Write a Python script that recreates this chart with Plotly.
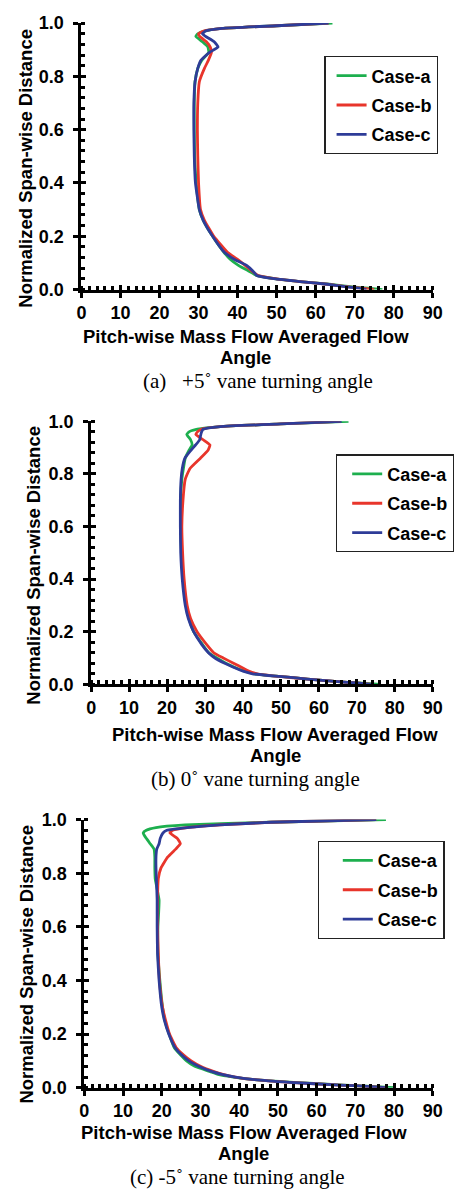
import plotly.graph_objects as go

# ---------------- data ----------------
CASES = ["Case-a", "Case-b", "Case-c"]
COLORS = ["#1DAF4E", "#E8352B", "#2E3C98"]

X_TICKS = [0, 10, 20, 30, 40, 50, 60, 70, 80, 90]
Y_TICKS = [0.0, 0.2, 0.4, 0.6, 0.8, 1.0]
Y_TICK_LABELS = ["0.0", "0.2", "0.4", "0.6", "0.8", "1.0"]

# panel (a) +5 deg
S_A = [0, 0.005, 0.01, 0.02, 0.03, 0.04, 0.053, 0.07, 0.09, 0.114, 0.14, 0.2, 0.26, 0.3, 0.4,
       0.5, 0.6, 0.7, 0.78, 0.83, 0.86, 0.89, 0.91, 0.93, 0.95, 0.96, 0.97, 0.98, 0.99, 1.0]
A_CASE_A = [77.1, 73.5, 69.5, 63.5, 56, 49.8, 44.9, 42.8, 40.3, 38.1, 36.5, 33.6, 31.2, 30.2, 29.4,
            29.0, 28.9, 28.9, 29.1, 29.8, 30.8, 32.6, 32.4, 31.0, 29.3, 29.8, 31.5, 36, 50, 64.3]
A_CASE_B = [75, 72, 68.5, 63, 56, 50, 45.3, 43.6, 42, 39.9, 37.4, 33.9, 31.5, 30.5, 30.0,
            29.8, 29.7, 29.8, 30.2, 31.5, 32.5, 33.3, 33.0, 32.0, 30.3, 30.0, 31.3, 36, 50, 63.3]
A_CASE_C = [73, 71, 68, 63, 56, 49.8, 44.9, 43.9, 42.4, 39.1, 36.6, 33.6, 31.2, 30.2, 29.2,
            28.9, 28.8, 28.8, 29.1, 29.8, 30.6, 32.8, 35.0, 34.0, 31.8, 31.0, 31.8, 36, 50, 63.3]

# panel (b) 0 deg
S_B = [0, 0.005, 0.01, 0.02, 0.03, 0.04, 0.05, 0.06, 0.08, 0.10, 0.12, 0.15, 0.2, 0.25, 0.3, 0.4,
       0.5, 0.6, 0.7, 0.78, 0.82, 0.86, 0.89, 0.91, 0.93, 0.95, 0.96, 0.97, 0.98, 0.99, 1.0]
B_CASE_A = [76.3, 70.5, 65, 57, 49.5, 43, 40.5, 38.5, 35.5, 33.1, 31.0, 29.4, 27.0, 25.8, 25.0, 24.3,
            23.8, 23.6, 23.6, 23.9, 24.3, 24.8, 25.8, 26.6, 26.2, 25.2, 25.8, 28, 34, 50, 67.8]
B_CASE_B = [74, 70, 65, 57, 49.5, 43.8, 41.5, 40.2, 37.5, 34.8, 32.3, 30.5, 27.9, 26.2, 25.3, 24.5,
            24.1, 23.9, 24.2, 24.8, 26.0, 28.8, 30.8, 31.3, 29.5, 27.6, 28.0, 29, 34, 50, 65.7]
B_CASE_C = [73.7, 70, 65, 57, 49.5, 42.5, 40, 38.3, 35.2, 32.6, 30.9, 29.2, 27.0, 25.6, 24.8, 24.0,
            23.6, 23.5, 23.5, 23.7, 24.0, 24.7, 26.3, 27.5, 28.6, 28.9, 29.1, 29.5, 34, 50, 66]

# panel (c) -5 deg
S_C = [0, 0.005, 0.01, 0.02, 0.03, 0.04, 0.05, 0.06, 0.08, 0.10, 0.12, 0.15, 0.2, 0.25, 0.3, 0.4,
       0.5, 0.6, 0.7, 0.78, 0.82, 0.86, 0.89, 0.91, 0.93, 0.95, 0.96, 0.97, 0.98, 0.99, 1.0]
C_CASE_A = [80, 74, 67, 54, 44, 38.5, 34.5, 32.5, 28.5, 26.4, 25.0, 23.2, 21.9, 20.8, 20.2, 19.5,
            19.0, 19.0, 19.3, 18.3, 18.2, 18.2, 18.0, 17.0, 16.0, 15.2, 16.0, 18.5, 26, 48, 77.9]
C_CASE_B = [78, 73, 66, 53, 44, 39.0, 35.8, 33.5, 30.0, 27.6, 25.8, 23.7, 22.0, 21.0, 20.2, 19.4,
            19.1, 18.9, 18.9, 19.1, 19.8, 21.5, 23.6, 24.8, 24.0, 22.1, 22.8, 26.5, 35, 48, 75.4]
C_CASE_C = [78, 73, 66, 53, 44, 39.0, 35.5, 33.0, 29.5, 27.0, 25.3, 23.4, 21.8, 20.7, 20.0, 19.3,
            18.9, 18.8, 18.8, 18.6, 18.5, 18.5, 18.7, 19.3, 19.6, 20.3, 21.3, 26.5, 35, 48, 75.4]

PANELS = [
    (S_A, [A_CASE_A, A_CASE_B, A_CASE_C]),
    (S_B, [B_CASE_A, B_CASE_B, B_CASE_C]),
    (S_C, [C_CASE_A, C_CASE_B, C_CASE_C]),
]
CAPTIONS = ["(a)\u00a0\u00a0\u00a0+5\u02da vane turning angle",
            "(b) 0\u02da vane turning angle",
            "(c) -5\u02da vane turning angle"]
X_TITLE_LINES = ["Pitch-wise Mass Flow Averaged Flow", "Angle"]
Y_TITLE = "Normalized Span-wise Distance"

# ---------------- layout geometry (page pixels) ----------------
W, H = 466, 1201

AX_LEFT = [79, 89, 82]
AX_RIGHT = [442, 442, 442]
AX_TOP = [13.3, 418.3, 823.3]
AX_BOTTOM = [284.3, 685.7, 1096]
LEG_POS = [(330, 47), (342, 452), (323, 845)]
LEG_INDENT = [6, 10, 19]
XT_X = [249, 279, 246.5]
XT_Y = [(332, 353), (737, 758), (1142, 1163)]
YT_POS = [(21, 161), (30, 565), (22.5, 970)]
CAP_POS = [(261.5, 377), (258.5, 782), (240, 1187)]

SANS = "Liberation Sans, Arial, sans-serif"
SERIF = "Liberation Serif, Times New Roman, serif"


def px(x):
    return x / W


def py(y):
    return 1 - y / H


fig = go.Figure()
layout = dict(
    width=W, height=H, margin=dict(l=0, r=0, t=0, b=0),
    paper_bgcolor="white", plot_bgcolor="white", showlegend=True,
    annotations=[],
)

for i, (s_vals, series) in enumerate(PANELS):
    n = i + 1
    xa = "x" if i == 0 else f"x{n}"
    ya = "y" if i == 0 else f"y{n}"
    ov = i + 4
    leg = "legend" if i == 0 else f"legend{n}"
    for name, color, vals in zip(CASES, COLORS, series):
        fig.add_trace(go.Scatter(
            x=vals, y=s_vals, mode="lines", name=name,
            line=dict(color=color, width=2.8, shape="spline", smoothing=0.4),
            xaxis=xa, yaxis=ya, legend=leg, legendgroup=f"{name}{n}",
            hoverinfo="skip",
        ))
    # invisible trace for overlay axes (crossing ticks)
    fig.add_trace(go.Scatter(x=[None], y=[None], xaxis=f"x{ov}", yaxis=f"y{ov}",
                             showlegend=False, hoverinfo="skip"))

    xdom = [px(AX_LEFT[i]), px(AX_RIGHT[i])]
    ydom = [py(AX_BOTTOM[i]), py(AX_TOP[i])]
    tick_font = dict(family=SANS, size=18, color="black", weight="bold")
    layout[f"xaxis{'' if i == 0 else n}"] = dict(
        domain=xdom, range=[0, 90], anchor=ya, tickvals=X_TICKS,
        ticktext=[str(v) for v in X_TICKS],
        ticks="outside", ticklen=5, tickwidth=3, tickcolor="black",
        showline=True, linewidth=3, linecolor="black", showgrid=False, zeroline=False,
        tickfont=tick_font, ticklabelstandoff=0,
        minor=dict(ticks="inside", tick0=0, dtick=2, ticklen=4, tickwidth=3,
                   tickcolor="black", showgrid=False),
        fixedrange=True,
    )
    layout[f"yaxis{'' if i == 0 else n}"] = dict(
        domain=ydom, range=[0, 1], anchor=xa, tickvals=Y_TICKS, ticktext=Y_TICK_LABELS,
        ticks="outside", ticklen=5, tickwidth=3, tickcolor="black",
        showline=True, linewidth=3, linecolor="black", showgrid=False, zeroline=False,
        tickfont=tick_font, ticklabelstandoff=6,
        minor=dict(ticks="inside", tick0=0, dtick=0.04, ticklen=4, tickwidth=3,
                   tickcolor="black", showgrid=False),
        fixedrange=True,
    )
    layout[f"xaxis{ov}"] = dict(
        overlaying=xa, anchor=f"y{ov}", range=[0, 90], tickvals=X_TICKS,
        ticks="inside", ticklen=5, tickwidth=3, tickcolor="black",
        showticklabels=False, showline=False, showgrid=False, zeroline=False, fixedrange=True,
    )
    layout[f"yaxis{ov}"] = dict(
        overlaying=ya, anchor=f"x{ov}", range=[0, 1], tickvals=Y_TICKS,
        ticks="inside", ticklen=5, tickwidth=3, tickcolor="black",
        showticklabels=False, showline=False, showgrid=False, zeroline=False, fixedrange=True,
    )
    lx, ly = LEG_POS[i]
    layout[leg] = dict(
        x=px(lx), y=py(ly), xanchor="left", yanchor="top",
        bgcolor="white", bordercolor="#222222", borderwidth=1.2,
        font=dict(family=SANS, size=18, color="black", weight="bold"),
        tracegroupgap=3, itemwidth=30, indentation=LEG_INDENT[i],
    )
    for line_text, ty in zip(X_TITLE_LINES, XT_Y[i]):
        layout["annotations"].append(dict(
            text=line_text, x=px(XT_X[i]), y=py(ty), xref="paper", yref="paper",
            xanchor="center", yanchor="middle", showarrow=False,
            font=dict(family=SANS, size=18.5, color="black", weight="bold"),
        ))
    yx, yy = YT_POS[i]
    layout["annotations"].append(dict(
        text=Y_TITLE, x=px(yx), y=py(yy), xref="paper", yref="paper",
        xanchor="center", yanchor="middle", showarrow=False, textangle=-90,
        font=dict(family=SANS, size=18.5, color="black", weight="bold"),
    ))
    cx, cy = CAP_POS[i]
    layout["annotations"].append(dict(
        text=CAPTIONS[i], x=px(cx), y=py(cy), xref="paper", yref="paper",
        xanchor="center", yanchor="middle", showarrow=False,
        font=dict(family=SERIF, size=21, color="black"),
    ))

fig.update_layout(**layout)
fig.write_html("out.html")
